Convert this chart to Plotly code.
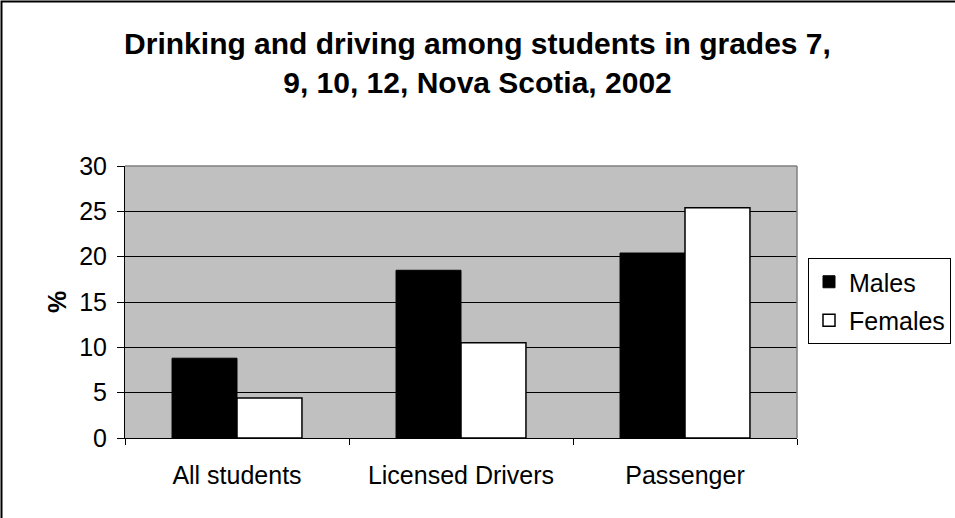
import plotly.graph_objects as go

categories = ["All students", "Licensed Drivers", "Passenger"]
males = [8.8, 18.5, 20.4]
females = [4.4, 10.5, 25.4]
y_ticks = [0, 5, 10, 15, 20, 25, 30]

W, H = 955, 518
L, R, T, B = 125, 158, 166, 80
pw, ph = W - L - R, H - T - B

def px(x):
    return (x - L) / pw

def py(y):
    return (H - B - y) / ph

FONT = "Liberation Sans, Arial, sans-serif"
FS = 25

fig = go.Figure()
fig.add_trace(go.Bar(name="Males", x=categories, y=males,
                     marker=dict(color="black", line=dict(color="black", width=1)),
                     legendgroup="m"))
fig.add_trace(go.Bar(name="Females", x=categories, y=females,
                     marker=dict(color="white", line=dict(color="black", width=1.5)),
                     legendgroup="f"))

fig.update_layout(
    width=W, height=H,
    margin=dict(l=L, r=R, t=T, b=B, autoexpand=False),
    paper_bgcolor="white",
    plot_bgcolor="#C0C0C0",
    font=dict(family=FONT, size=FS, color="black"),
    barmode="group", bargap=0.42, bargroupgap=0,
    title=dict(text="Drinking and driving among students in grades 7,<br>9, 10, 12, Nova Scotia, 2002",
               font=dict(family=FONT, size=30, color="black", weight="bold"),
               x=0.5, xref="container", xanchor="center",
               y=1 - 54 / H, yref="container", yanchor="middle"),
    legend=dict(x=808 / W, y=1 - 258 / H, xref="container", yref="container",
                xanchor="left", yanchor="top",
                bordercolor="black", borderwidth=1, bgcolor="white",
                font=dict(family=FONT, size=FS, color="black"),
                traceorder="grouped", tracegroupgap=3),
    showlegend=True,
)

fig.update_xaxes(type="category", showline=True, linecolor="black", linewidth=1,
                 ticks="outside", tickson="boundaries", ticklen=6, tickcolor="black",
                 showgrid=False, ticklabelstandoff=15,
                 tickfont=dict(family=FONT, size=FS, color="black"))
fig.update_yaxes(range=[0, 30], tickvals=y_ticks, showline=True, linecolor="black", linewidth=1,
                 ticks="outside", ticklen=7, tickcolor="black",
                 showgrid=True, gridcolor="black", gridwidth=1, zeroline=False,
                 ticklabelstandoff=5,
                 tickfont=dict(family=FONT, size=FS, color="black"))

fig.add_annotation(text="<b>%</b>", x=px(57), y=0.5, xref="paper", yref="paper",
                   xanchor="center", yanchor="middle",
                   textangle=-90, showarrow=False,
                   font=dict(family=FONT, size=FS, color="black"))

# plot-area border (grey) on top and right
fig.add_shape(type="line", xref="paper", yref="paper", x0=0, x1=1, y0=1, y1=1,
              line=dict(color="#808080", width=1.5))
fig.add_shape(type="line", xref="paper", yref="paper", x0=1, x1=1, y0=0, y1=1,
              line=dict(color="#808080", width=1.5))
# outer chart border
fig.add_shape(type="rect", xref="paper", yref="paper",
              x0=px(1.5), x1=px(975), y0=py(540), y1=py(1.5),
              line=dict(color="black", width=2), layer="below")

fig.write_html("out.html")
